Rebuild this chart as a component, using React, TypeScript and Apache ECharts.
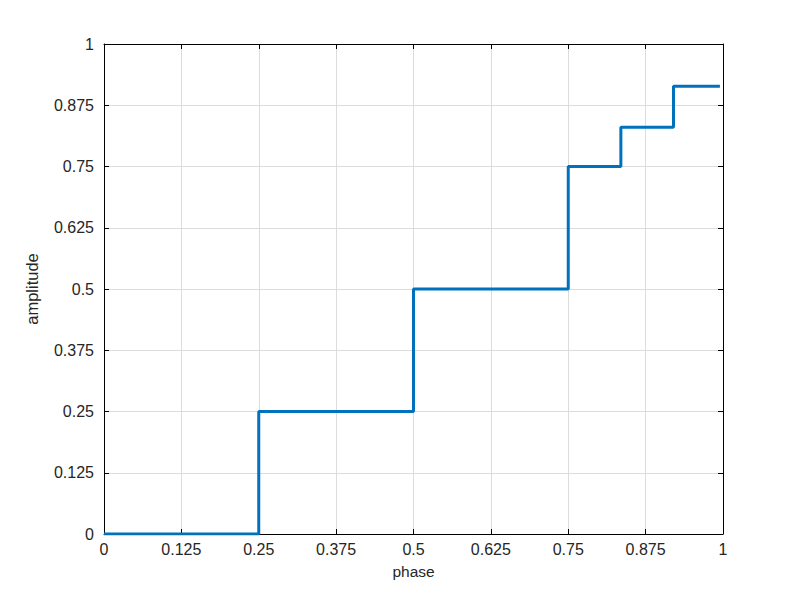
import React, { useEffect, useRef } from "react";
import * as echarts from "echarts";

const stepPhase = [0, 0.25, 0.5, 0.75, 0.835, 0.92, 0.995];
const stepAmp = [0, 0.25, 0.5, 0.75, 0.83, 0.914, 0.914];
const xLabel = "phase";
const yLabel = "amplitude";

export default function App() {
  const ref = useRef<HTMLDivElement>(null);
  useEffect(() => {
    if (!ref.current) return;
    const chart = echarts.init(ref.current, null, { renderer: "svg" });
    const font = "Liberation Sans, Arial, sans-serif";
    const axisCommon = {
      type: "value" as const,
      min: 0,
      max: 1,
      interval: 0.125,
      axisLine: { show: true, onZero: false, lineStyle: { color: "#000", width: 1 } },
      axisTick: { show: true, inside: true, length: 5, lineStyle: { color: "#000" } },
    };
    chart.setOption({
      animation: false,
      backgroundColor: "#fff",
      grid: { left: 104, right: 77, top: 44, bottom: 66, containLabel: false },
      xAxis: [
        {
          ...axisCommon,
          position: "bottom",
          name: xLabel,
          nameLocation: "middle",
          nameGap: 29,
          nameTextStyle: { color: "#262626", fontSize: 15.5, fontFamily: font },
          axisLabel: { color: "#262626", fontSize: 16, fontFamily: font, margin: 7 },
          splitLine: { show: true, lineStyle: { color: "#dcdcdc", width: 1 } },
        },
        {
          ...axisCommon,
          position: "top",
          axisLabel: { show: false },
          splitLine: { show: false },
        },
      ],
      yAxis: [
        {
          ...axisCommon,
          position: "left",
          name: yLabel,
          nameLocation: "middle",
          nameGap: 64,
          nameRotate: 90,
          nameTextStyle: { color: "#262626", fontSize: 16.5, fontFamily: font },
          axisLabel: { color: "#262626", fontSize: 16, fontFamily: font, margin: 10 },
          splitLine: { show: true, lineStyle: { color: "#dcdcdc", width: 1 } },
        },
        {
          ...axisCommon,
          position: "right",
          axisLabel: { show: false },
          splitLine: { show: false },
        },
      ],
      series: [
        {
          type: "line",
          step: "end",
          data: stepPhase.map((p, i) => [p, stepAmp[i]]),
          showSymbol: false,
          lineStyle: { color: "#0072BD", width: 3 },
          itemStyle: { color: "#0072BD" },
          xAxisIndex: 0,
          yAxisIndex: 0,
        },
      ],
    });
    return () => chart.dispose();
  }, []);
  return <div ref={ref} style={{ width: 800, height: 600, margin: -8 }} />;
}
